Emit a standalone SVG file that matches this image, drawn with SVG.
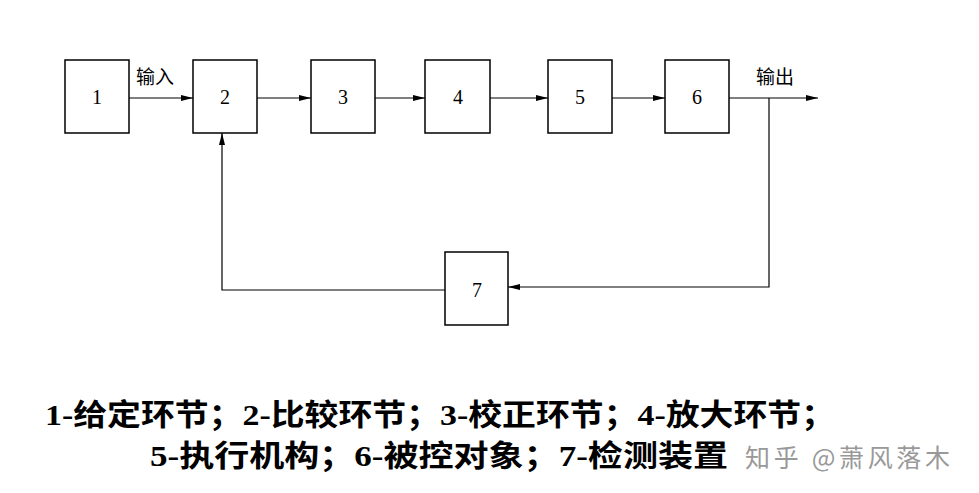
<svg xmlns="http://www.w3.org/2000/svg" width="979" height="493" viewBox="0 0 979 493">
<defs>
<marker id="a" markerWidth="12" markerHeight="8" refX="12" refY="4" orient="auto" markerUnits="userSpaceOnUse"><path d="M0,1 L12,4 L0,7 Z" fill="#000"/></marker>
<style>
.b{fill:#fff;stroke:#000;stroke-width:1.5}
.n{font-family:"Liberation Serif",serif;font-size:20px;text-anchor:middle}
.l{fill:none;stroke:#000;stroke-width:1.2}
.c{font-family:"Liberation Serif","Noto Sans CJK SC",serif;font-size:19px}
.t{font-family:"Liberation Serif","Noto Sans CJK SC",serif;font-size:30px;font-weight:bold}
</style>
</defs>
<rect width="979" height="493" fill="#fff"/>
<g id="connectors">
<line class="l" x1="129" y1="98" x2="193" y2="98" marker-end="url(#a)"/>
<line class="l" x1="257" y1="98" x2="311" y2="98" marker-end="url(#a)"/>
<line class="l" x1="375" y1="98" x2="425" y2="98" marker-end="url(#a)"/>
<line class="l" x1="490" y1="98" x2="548" y2="98" marker-end="url(#a)"/>
<line class="l" x1="612" y1="98" x2="665" y2="98" marker-end="url(#a)"/>
<line class="l" x1="729" y1="98" x2="818" y2="98" marker-end="url(#a)"/>
<polyline class="l" points="769,98 769,287 508,287" marker-end="url(#a)"/>
<polyline class="l" points="445,290 222,290 222,133" marker-end="url(#a)"/>
<text class="c" x="136" y="84">输入</text>
<text class="c" x="756" y="84">输出</text>
</g>
<g id="n1"><rect class="b" x="65" y="60" width="64" height="73"/><text class="n" x="97" y="104">1</text></g>
<g id="n2"><rect class="b" x="193" y="60" width="64" height="73"/><text class="n" x="225" y="104">2</text></g>
<g id="n3"><rect class="b" x="311" y="60" width="64" height="73"/><text class="n" x="343" y="104">3</text></g>
<g id="n4"><rect class="b" x="425" y="60" width="65" height="73"/><text class="n" x="458" y="104">4</text></g>
<g id="n5"><rect class="b" x="548" y="60" width="64" height="73"/><text class="n" x="580" y="104">5</text></g>
<g id="n6"><rect class="b" x="665" y="60" width="64" height="73"/><text class="n" x="697" y="104">6</text></g>
<g id="n7"><rect class="b" x="445" y="252" width="63" height="73"/><text class="n" x="477" y="297">7</text></g>
<text class="t" x="45" y="425" textLength="790" lengthAdjust="spacingAndGlyphs">1-给定环节；2-比较环节；3-校正环节；4-放大环节；</text>
<text class="t" x="150" y="466" textLength="578" lengthAdjust="spacingAndGlyphs">5-执行机构；6-被控对象；7-检测装置</text>
<text x="745" y="467" font-family="'Noto Sans CJK SC',sans-serif" font-size="25" fill="#999" textLength="205">知乎 @萧风落木</text>
</svg>
